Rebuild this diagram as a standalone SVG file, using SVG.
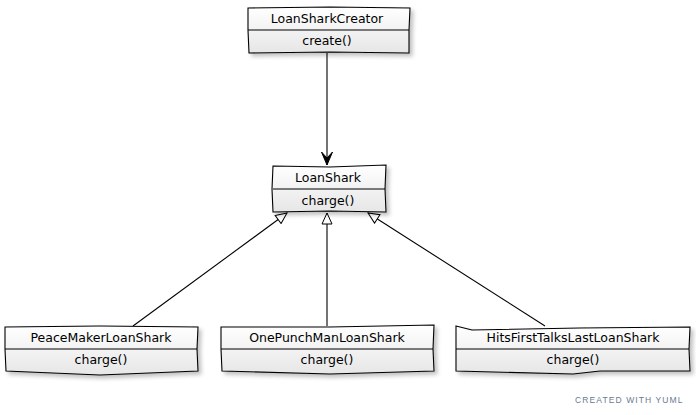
<svg xmlns="http://www.w3.org/2000/svg" width="696" height="415" viewBox="0 0 696 415">
<defs>
<linearGradient id="g" x1="0" y1="0" x2="0" y2="1">
<stop offset="0" stop-color="#ffffff"/>
<stop offset="1" stop-color="#e6e6e6"/>
</linearGradient>
<filter id="sh" x="-10%" y="-10%" width="130%" height="150%">
<feGaussianBlur in="SourceAlpha" stdDeviation="2"/>
<feOffset dx="3" dy="3"/>
<feComponentTransfer><feFuncA type="linear" slope="0.25"/></feComponentTransfer>
<feMerge><feMergeNode/><feMergeNode in="SourceGraphic"/></feMerge>
</filter>
<marker id="vee" markerWidth="14" markerHeight="12" refX="13" refY="6" orient="auto" markerUnits="userSpaceOnUse" viewBox="0 0 14 12">
<path d="M0,0.5 L13,6 L0,11.5 L6,6 Z" fill="#000" stroke="#000" stroke-width="1"/>
</marker>
<marker id="tri" markerWidth="13" markerHeight="12" refX="12" refY="6" orient="auto" markerUnits="userSpaceOnUse" viewBox="0 0 13 12">
<path d="M1,1 L12,6 L1,11 Z" fill="#fff" stroke="#000" stroke-width="1"/>
</marker>
</defs>
<style>
.box{fill:url(#g);stroke:#000;stroke-width:1.1;filter:url(#sh)}
.div{stroke:#000;stroke-width:1;fill:none}
.t{font-family:"DejaVu Sans",sans-serif;font-size:12.5px;fill:#000;text-anchor:middle}
.edge{stroke:#000;stroke-width:1.1;fill:none}
.credit{font-family:"Liberation Sans",sans-serif;font-size:8.5px;fill:#6b7a8f;letter-spacing:1.1px}
</style>
<g id="edges">
<line class="edge" x1="327" y1="53" x2="327" y2="165" marker-end="url(#vee)"/>
<line class="edge" x1="133" y1="326" x2="287" y2="213" marker-end="url(#tri)"/>
<line class="edge" x1="327" y1="326" x2="327" y2="213" marker-end="url(#tri)"/>
<line class="edge" x1="545" y1="326" x2="368" y2="213" marker-end="url(#tri)"/>
</g>
<g id="LoanSharkCreator">
<path class="box" d="M248,8 L330,7 L410,8 L409,30 L409,53 L330,52 L249,53 L248,30 Z"/>
<line class="div" x1="248" y1="30" x2="409" y2="30"/>
<text class="t" x="327" y="23">LoanSharkCreator</text>
<text class="t" x="327" y="45">create()</text>
</g>
<g id="LoanShark">
<path class="box" d="M273,166 L330,167 L386,165 L385,189 L386,212 L330,211 L273,212 L272,189 Z"/>
<line class="div" x1="273" y1="189" x2="385" y2="189"/>
<text class="t" x="328" y="182">LoanShark</text>
<text class="t" x="328" y="205">charge()</text>
</g>
<g id="PeaceMakerLoanShark">
<path class="box" d="M5,327 L100,326 L198,327 L197,349 L198,371 L100,375 L6,371 L5,349 Z"/>
<line class="div" x1="5" y1="349" x2="197" y2="349"/>
<text class="t" x="101" y="342">PeaceMakerLoanShark</text>
<text class="t" x="101" y="364">charge()</text>
</g>
<g id="OnePunchManLoanShark">
<path class="box" d="M221,327 L330,327 L434,325 L433,349 L434,371 L330,374 L222,371 L221,349 Z"/>
<line class="div" x1="221" y1="349" x2="433" y2="349"/>
<text class="t" x="327" y="342">OnePunchManLoanShark</text>
<text class="t" x="327" y="364">charge()</text>
</g>
<g id="HitsFirstTalksLastLoanShark">
<path class="box" d="M456,326 L472,330 L580,328 L690,327 L689,349 L690,371 L600,371 L573,374 L456,371 L456,349 Z"/>
<line class="div" x1="456" y1="349" x2="689" y2="349"/>
<text class="t" x="573" y="342">HitsFirstTalksLastLoanShark</text>
<text class="t" x="573" y="364">charge()</text>
</g>
<text class="credit" x="575" y="403">CREATED WITH YUML</text>
</svg>
